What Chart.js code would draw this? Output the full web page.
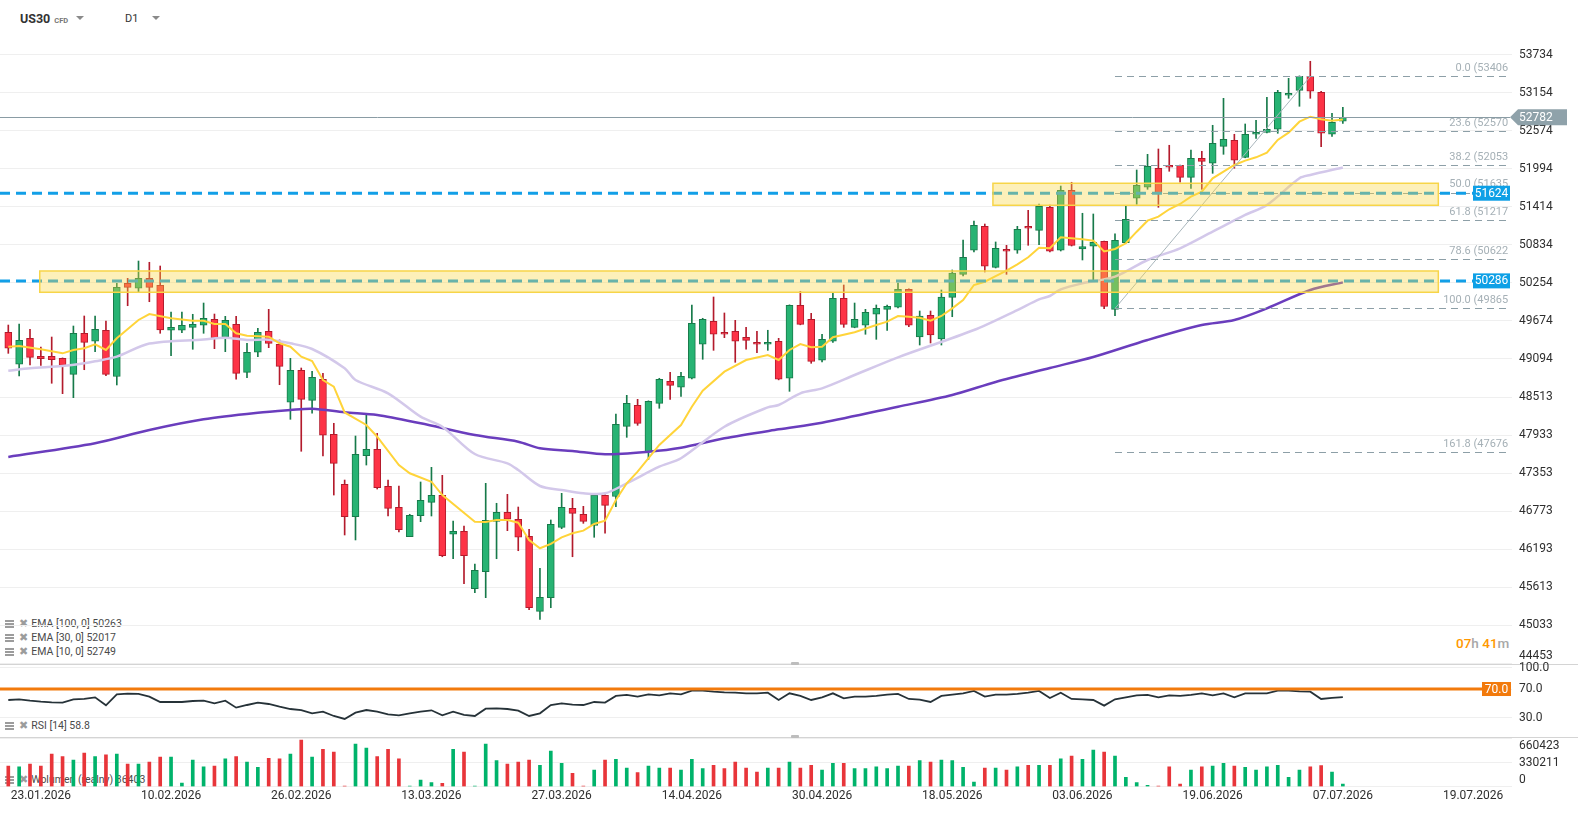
<!DOCTYPE html>
<html>
<head>
<meta charset="utf-8">
<title>US30 D1</title>
<script src="https://cdn.jsdelivr.net/npm/chart.js@4.4.1/dist/chart.umd.min.js"></script>
<style>
  html, body { margin:0; padding:0; width:1578px; height:820px; background:#fff; overflow:hidden; font-family: Roboto, "Noto Sans", "DejaVu Sans", sans-serif; }
  .a { position:absolute; white-space:nowrap; }
  canvas { position:absolute; left:0; }
  .leg { position:absolute; left:5px; font-size:10.5px; color:#4a4a4a; line-height:12px; white-space:nowrap; z-index:0; }
  .ico { display:inline-block; width:9px; height:8px; vertical-align:-1px; background: repeating-linear-gradient(#9c9c9c 0 2px, transparent 2px 3px); margin-right:5px; }
  .xx { color:#9c9c9c; font-size:11px; margin-right:3px; font-family:"DejaVu Sans", sans-serif; }
  .tri { position:absolute; width:0; height:0; border-left:4px solid transparent; border-right:4px solid transparent; border-top:4px solid #8a8a8a; }
</style>
</head>
<body>
<div class="a" style="left:20px;top:11px;font-size:12.5px;font-weight:700;color:#333;">US30<span style="font-size:7.5px;color:#777;font-weight:700;margin-left:4px;">CFD</span></div>
<div class="tri" style="left:76px;top:16px;"></div>
<div class="a" style="left:125px;top:12px;font-size:11px;color:#333;">D1</div>
<div class="tri" style="left:152px;top:16px;"></div>

<div class="leg" style="top:618px"><span class="ico"></span><span class="xx">✖</span>EMA [100, 0] 50263</div>
<div class="leg" style="top:632px"><span class="ico"></span><span class="xx">✖</span>EMA [30, 0] 52017</div>
<div class="leg" style="top:646px"><span class="ico"></span><span class="xx">✖</span>EMA [10, 0] 52749</div>
<div class="leg" style="top:720px"><span class="ico"></span><span class="xx">✖</span>RSI [14] 58.8</div>
<div class="leg" style="top:774px"><span class="ico"></span><span class="xx">✖</span>Wolumen (realny) 36403</div>

<div class="a" style="left:1456px;top:635px;font-size:13.5px;font-weight:500;"><span style="color:#ff9800">07</span><span style="color:#a8a8a8">h </span><span style="color:#ff9800">41</span><span style="color:#a8a8a8">m</span></div>

<div class="a" style="left:0;top:664px;width:1578px;height:1px;background:#d4d4d4;"></div>
<div class="a" style="left:0;top:737px;width:1578px;height:1px;background:#d4d4d4;"></div>
<div class="a" style="left:791px;top:662px;width:8px;height:3px;background:#bdbdbd;border-radius:1px;z-index:5;"></div>
<div class="a" style="left:791px;top:735px;width:8px;height:3px;background:#bdbdbd;border-radius:1px;z-index:5;"></div>

<canvas id="main" width="1578" height="672" style="top:0;z-index:1;width:1578px;height:672px;"></canvas>
<canvas id="rsi" width="1578" height="85" style="top:660px;z-index:2;width:1578px;height:85px;"></canvas>
<canvas id="vol" width="1578" height="92" style="top:728px;z-index:3;width:1578px;height:92px;"></canvas>

<script>
// ---------------- DATA ----------------
const candleOpen = [49501,49013,49409,49135,49135,49104,48860,49486,49364,49532,48826,50249,50173,50325,50219,49532,49532,49577,49608,49700,49425,49623,48890,49196,49516,49318,48433,48921,48463,48784,47944,47181,46686,47617,47715,47150,46830,46381,46701,46906,47013,46418,46463,45587,45847,46616,46753,46647,46387,45242,45450,46524,46814,46723,46555,47013,46995,48066,48387,47678,48417,48753,48662,48799,49318,49669,49501,49516,49425,49348,49318,49364,48799,49913,49700,49074,49364,50020,49577,49608,49776,49852,49883,50157,49429,49761,49399,50035,50386,50753,51119,50493,50768,50753,51119,51058,51409,50753,51669,50773,50814,50890,49852,50869,51547,51715,52005,52050,52050,51867,52157,52081,52340,52432,52172,52524,52554,52600,53119,53195,53409,53165,52524,52722];
const candleHigh = [49612,49628,49547,49277,49429,49110,49597,49750,49750,49674,50249,50325,50589,50570,50513,49811,49811,49776,49948,49780,49745,49745,49333,49562,49852,49384,49104,48956,48906,48875,48112,47246,47918,48239,47959,47246,47155,46723,47216,47440,47318,46621,46544,45964,47196,46891,47028,46834,46494,45899,46636,47043,46967,46845,47030,47020,48254,48539,48478,48455,48799,48890,48890,49918,49715,50040,49796,49684,49577,49516,49532,49409,49920,50127,49791,49471,50096,50223,49948,49852,49918,49918,50254,50165,49826,49826,50147,50452,50910,51200,51154,50880,50829,51119,51363,51460,51444,51734,51791,51318,51307,50895,51006,51429,51979,52218,52299,52356,52055,52284,52264,52661,53073,52524,52681,52737,53088,53195,53378,53415,53638,53180,52844,52936];
const candleLow = [49180,48834,49002,48997,48723,48564,48503,48930,49205,48839,48697,49907,50121,49968,49486,49144,49495,49242,49486,49251,49205,48784,48808,49129,49266,48701,48173,47685,48265,47613,47017,46407,46331,47475,47109,46697,46453,46381,46610,46697,46075,46045,45663,45526,45450,46045,46473,46167,45267,45120,45297,46503,46075,46585,46372,46433,46839,47898,48081,47562,48341,48478,48524,48790,49089,49226,49419,49043,49242,49190,49226,48775,48600,49615,49028,49048,49348,49577,49570,49471,49394,49529,49875,49587,49307,49338,49307,49739,50360,50727,50422,50483,50386,50707,50829,50838,50727,50742,50818,50605,50284,49861,49754,50864,51455,51684,51409,51959,51791,51699,51684,51928,52218,52005,52165,52462,52545,52539,53073,52951,53073,52334,52493,52691];
const candleClose = [49257,49379,49119,49098,49083,48997,49486,49348,49547,48860,50188,50188,50325,50188,49536,49577,49608,49623,49715,49414,49684,48875,49196,49501,49333,48982,48921,48478,48814,47929,47501,46686,47639,47715,47129,46814,46488,46708,46937,47013,46091,46463,46091,45868,46631,46753,46647,46372,45297,45456,46570,46830,46738,46616,47013,46860,48097,48417,48112,48448,48784,48692,48829,49638,49700,49471,49471,49364,49379,49318,49348,48784,49913,49623,49058,49394,50020,49623,49700,49806,49867,49898,50157,49608,49750,49460,50040,50406,50646,51134,50509,50783,50738,51073,51089,51424,50738,51669,50829,50811,50875,49895,50905,51226,51745,52035,51623,52020,51867,52157,52111,52386,52447,52127,52524,52554,52600,53165,53149,53409,53180,52539,52707,52783];
const volume = [284000,275000,312000,284000,449000,413000,367000,463000,413000,440000,449000,312000,312000,339000,408000,408000,50000,367000,275000,284000,385000,413000,339000,266000,390000,385000,449000,642000,408000,514000,477000,9000,587000,532000,413000,514000,385000,8000,92000,55000,46000,514000,477000,9000,587000,358000,312000,339000,367000,294000,491000,321000,183000,10000,229000,367000,376000,257000,193000,284000,257000,257000,229000,376000,248000,294000,248000,339000,257000,202000,257000,257000,339000,257000,294000,229000,321000,321000,248000,248000,275000,248000,284000,284000,358000,339000,367000,358000,266000,64000,257000,257000,229000,275000,294000,294000,294000,385000,422000,376000,504000,477000,422000,128000,55000,18000,9000,275000,37000,229000,275000,284000,321000,284000,266000,229000,275000,294000,128000,229000,275000,289000,202000,36403];
const rsi14 = [54.7,55.6,53.8,52.4,51.4,51.0,55.6,56.1,58.4,47.3,62.6,63.5,63.1,59.4,51.9,51.9,51.9,53.3,53.8,50.0,53.8,44.0,47.7,51.0,49.1,45.4,42.1,40.7,36.1,38.4,32.4,28.2,37.0,40.7,38.4,34.7,33.3,36.1,38.4,40.3,33.3,38.4,33.8,32.4,42.6,43.1,42.1,39.8,32.4,36.1,47.7,50.0,48.2,47.7,51.9,51.0,60.3,61.7,59.4,62.6,61.2,64.0,62.6,67.7,67.7,66.3,65.4,64.9,64.0,64.0,64.9,54.7,64.0,60.3,54.7,58.4,64.0,57.0,59.4,59.4,60.3,62.1,63.1,56.1,55.2,51.9,60.3,62.1,64.0,67.3,59.4,62.1,62.1,63.1,64.9,67.3,57.5,64.9,56.1,55.6,54.7,46.8,55.6,58.4,61.2,61.7,58.4,61.2,60.3,61.7,64.0,61.2,64.0,58.4,64.0,64.0,64.0,67.7,67.7,66.8,66.3,56.1,57.5,58.8];

const ema10Idx = [0,1,3,5,6,7,8,9,10,12,13,15,17,18,19,20,21,22,24,25,26,27,28,29,30,31,33,34,36,37,39,40,43,44,45,46,47,48,49,50,51,52,53,54,55,56,57,58,60,62,63,64,66,68,70,71,72,73,74,75,76,78,80,81,82,83,84,85,86,87,88,89,90,91,92,93,94,95,96,97,98,99,100,101,102,103,104,105,106,107,108,109,110,111,112,113,114,115,116,117,118,119,120,121,122,123];
const ema10Val = [49281,49292,49242,49180,49231,49257,49318,49231,49409,49689,49780,49715,49678,49678,49628,49628,49486,49449,49434,49333,49281,49129,49063,48773,48671,48277,48086,47907,47475,47349,47220,47017,46610,46605,46636,46636,46595,46331,46204,46270,46372,46433,46473,46575,46625,46941,47196,47373,47781,48086,48365,48610,48900,49078,49155,49078,49231,49322,49272,49281,49425,49501,49612,49663,49750,49739,49724,49678,49750,49867,49994,50223,50273,50360,50441,50539,50646,50793,50783,50951,50936,50921,50900,50736,50773,50860,51037,51205,51266,51379,51460,51571,51647,51852,51953,52055,52121,52172,52243,52437,52548,52716,52792,52753,52731,52749];
const ema30Idx = [0,2,5,7,8,10,13,18,20,22,24,26,28,31,32,35,38,40,43,46,47,49,51,53,55,57,60,62,66,70,71,73,75,78,82,89,93,95,96,97,99,102,105,108,111,114,116,119,120,123];
const ema30Val = [48915,48952,48987,49028,49058,49129,49329,49391,49419,49384,49389,49333,49246,48952,48773,48570,48213,48060,47643,47501,47399,47155,47094,47043,47043,47196,47449,47578,48060,48356,48391,48570,48646,48849,49119,49536,49841,50005,50055,50157,50249,50350,50605,50783,51037,51292,51444,51852,51902,52017];
const ema100Idx = [0,8,13,18,23,26,28,31,34,38,43,47,49,52,55,59,62,66,71,75,82,87,91,96,100,105,110,113,116,120,123];
const ema100Val = [47598,47807,48010,48173,48274,48315,48335,48280,48239,48112,47933,47831,47730,47689,47638,47678,47739,47883,48020,48121,48365,48544,48743,48956,49124,49384,49612,49689,49867,50147,50263];

const priceTicks = [53734,53154,52574,51994,51414,50834,50254,49674,49094,48513,47933,47353,46773,46193,45613,45033,44453];
const rsiTicks = [100,70,30];
const volTicks = [0,330211,660423];
const dateTickIdx = [3,15,27,39,51,63,75,87,99,111,123,135];
const dateTickText = ['23.01.2026','10.02.2026','26.02.2026','13.03.2026','27.03.2026','14.04.2026','30.04.2026','18.05.2026','03.06.2026','19.06.2026','07.07.2026','19.07.2026'];

const fibLevels = ['0.0','23.6','38.2','50.0','61.8','78.6','100.0','161.8'];
const fibValues = [53406,52570,52053,51635,51217,50622,49865,47676];
const fibAnchorIdx = [102, 120];
const fibEndIdx = 138.1;
const lastPrice = 52782;
const levelValues = [51624, 50286];
const zoneFrom = [2.9, 90.75];
const zoneTo = [131.8, 131.8];
const zoneLow = [50112, 51440];
const zoneHigh = [50437, 51776];
const rsiLevel = 70;

// ---------------- STYLE / HELPERS ----------------
Chart.defaults.font.family = 'Roboto, "Noto Sans", sans-serif';
const FONT = { size: 12, family: 'Roboto, "Noto Sans", sans-serif' };
const TICK_COLOR = '#2e2e2e';
const GRID = '#efefef';
const UP = '#27b373', UP_B = '#177a4a', DN = '#fd3346', DN_B = '#b31b2c';
const X_MIN = -0.765, X_MAX = 138.59;

function zeroPad(s) { s.paddingTop = 0; s.paddingBottom = 0; s.paddingLeft = 0; s.paddingRight = 0; }
function xAxis(show) {
  return {
    type: 'linear', min: X_MIN, max: X_MAX, offset: false, display: show,
    grid: { display: false, drawTicks: false }, border: { display: false },
    afterBuildTicks: s => { s.ticks = dateTickIdx.map(v => ({ value: v })); },
    afterFit: s => { if (show) s.height = 33.3; zeroPad(s); },
    ticks: { autoSkip: false, maxRotation: 0, padding: 2, color: TICK_COLOR, font: FONT,
      callback: v => { const k = dateTickIdx.indexOf(v); return k >= 0 ? dateTickText[k] : ''; } }
  };
}
function yAxis(min, max, ticks, cb) {
  return {
    position: 'right', min, max,
    grid: { color: GRID, drawTicks: false }, border: { display: false },
    afterBuildTicks: s => { s.ticks = ticks.map(v => ({ value: v })); },
    afterFit: s => { s.width = 66; zeroPad(s); },
    ticks: { autoSkip: false, padding: 7, color: TICK_COLOR, font: FONT, callback: cb }
  };
}
const isUp = i => candleClose[i] >= candleOpen[i];

// ---------------- MAIN CHART ----------------
const overlayMain = {
  id: 'overlayMain',
  afterDatasetsDraw(chart) {
    const { ctx, chartArea: a, scales: { x, y } } = chart;
    const px = v => x.getPixelForValue(v), py = v => y.getPixelForValue(v);
    ctx.save();
    ctx.beginPath(); ctx.rect(a.left, a.top, a.right - a.left, a.bottom - a.top); ctx.clip();
    // fibonacci levels
    const fx0 = px(fibAnchorIdx[0]), fx1 = px(fibEndIdx);
    ctx.lineWidth = 1; ctx.strokeStyle = '#8d9fa7'; ctx.setLineDash([7, 5]);
    fibValues.forEach(v => { const yy = Math.round(py(v)) + 0.5; ctx.beginPath(); ctx.moveTo(fx0, yy); ctx.lineTo(fx1, yy); ctx.stroke(); });
    ctx.setLineDash([]);
    ctx.font = '11px Roboto, "Noto Sans", sans-serif'; ctx.fillStyle = '#a5b0b6'; ctx.textAlign = 'right'; ctx.textBaseline = 'middle';
    fibValues.forEach((v, k) => ctx.fillText(fibLevels[k] + ' (' + v, fx1 + 1.5, py(v) - 8));
    // fib trend line
    ctx.strokeStyle = '#a9b6bc'; ctx.lineWidth = 1;
    ctx.beginPath(); ctx.moveTo(px(fibAnchorIdx[0]), py(fibValues[6])); ctx.lineTo(px(fibAnchorIdx[1]), py(fibValues[0])); ctx.stroke();
    // last price line
    const lp = Math.round(py(lastPrice)) + 0.5;
    ctx.strokeStyle = '#8a9ca4'; ctx.beginPath(); ctx.moveTo(a.left, lp); ctx.lineTo(a.right - 2, lp); ctx.stroke();
    // blue support / resistance lines
    ctx.strokeStyle = '#129fe7'; ctx.lineWidth = 3; ctx.setLineDash([10, 6]);
    levelValues.forEach(v => { const yy = py(v); ctx.beginPath(); ctx.moveTo(a.left, yy); ctx.lineTo(a.right - 39, yy); ctx.stroke(); });
    ctx.setLineDash([]);
    // zones
    zoneFrom.forEach((f, k) => {
      const x0 = px(f), x1 = px(zoneTo[k]), y0 = py(zoneHigh[k]), y1 = py(zoneLow[k]);
      ctx.fillStyle = 'rgba(249,215,66,0.37)'; ctx.fillRect(x0, y0, x1 - x0, y1 - y0);
      ctx.strokeStyle = '#f7d548'; ctx.lineWidth = 1.5; ctx.strokeRect(x0, y0, x1 - x0, y1 - y0);
    });
    ctx.restore();
    // tags
    ctx.save();
    ctx.font = '12px Roboto, "Noto Sans", sans-serif'; ctx.textBaseline = 'middle';
    levelValues.forEach(v => {
      const yy = py(v);
      ctx.fillStyle = '#0ea0e6'; ctx.fillRect(a.right - 39, yy - 7.5, 37, 15);
      ctx.fillStyle = '#fff'; ctx.textAlign = 'center'; ctx.fillText(String(v), a.right - 20.5, yy + 0.5);
    });
    const ty = py(lastPrice);
    ctx.fillStyle = '#8fa2aa';
    ctx.beginPath(); ctx.moveTo(a.right - 2, ty); ctx.lineTo(a.right + 6, ty - 8); ctx.lineTo(a.right + 55, ty - 8);
    ctx.lineTo(a.right + 55, ty + 8); ctx.lineTo(a.right + 6, ty + 8); ctx.closePath(); ctx.fill();
    ctx.fillStyle = '#fff'; ctx.textAlign = 'left'; ctx.fillText(String(lastPrice), a.right + 7, ty + 0.5);
    ctx.restore();
  }
};

new Chart(document.getElementById('main'), {
  type: 'bar',
  data: {
    datasets: [
      { type: 'line', label: 'EMA10', data: ema10Idx.map((v, k) => ({ x: v, y: ema10Val[k] })), borderColor: '#ffd43a', borderWidth: 2, pointRadius: 0, tension: 0, order: 0 },
      { type: 'line', label: 'EMA30', data: ema30Idx.map((v, k) => ({ x: v, y: ema30Val[k] })), borderColor: '#d3c8ea', borderWidth: 2.5, pointRadius: 0, tension: 0.3, order: 0 },
      { type: 'line', label: 'EMA100', data: ema100Idx.map((v, k) => ({ x: v, y: ema100Val[k] })), borderColor: '#6a3dbd', borderWidth: 2.5, pointRadius: 0, tension: 0.3, order: 0 },
      { label: 'body', data: candleOpen.map((o, i) => ({ x: i, y: [o, candleClose[i]] })),
        backgroundColor: candleOpen.map((o, i) => isUp(i) ? UP : DN),
        borderColor: candleOpen.map((o, i) => isUp(i) ? UP_B : DN_B),
        borderWidth: 1, borderSkipped: false, barThickness: 7, grouped: false, minBarLength: 2, order: 1 },
      { label: 'wick', data: candleLow.map((l, i) => ({ x: i, y: [l, candleHigh[i]] })),
        backgroundColor: candleOpen.map((o, i) => isUp(i) ? UP_B : DN_B),
        borderWidth: 0, barThickness: 1, grouped: false, order: 2 }
    ]
  },
  options: {
    responsive: false, devicePixelRatio: 1, animation: false,
    layout: { padding: { top: 36, bottom: 9, left: 0, right: 0 } },
    plugins: { legend: { display: false }, tooltip: { enabled: false } },
    scales: {
      x: xAxis(false),
      y: yAxis(44453, 54024, priceTicks, v => v === 44453 ? [String(v), ''] : String(v))
    }
  },
  plugins: [overlayMain]
});

// ---------------- RSI ----------------
const overlayRsi = {
  id: 'overlayRsi',
  afterDatasetsDraw(chart) {
    const { ctx, chartArea: a, scales: { y } } = chart;
    const yy = y.getPixelForValue(rsiLevel);
    ctx.save();
    ctx.strokeStyle = '#f27a0c'; ctx.lineWidth = 3;
    ctx.beginPath(); ctx.moveTo(a.left, yy); ctx.lineTo(a.right - 30, yy); ctx.stroke();
    ctx.fillStyle = '#f27a0c'; ctx.fillRect(a.right - 30, yy - 7, 29, 14);
    ctx.fillStyle = '#fff'; ctx.font = '12px Roboto, "Noto Sans", sans-serif'; ctx.textAlign = 'center'; ctx.textBaseline = 'middle';
    ctx.fillText(rsiLevel.toFixed(1), a.right - 15.5, yy + 0.5);
    ctx.restore();
  }
};
new Chart(document.getElementById('rsi'), {
  type: 'line',
  data: { datasets: [{ label: 'RSI', data: rsi14.map((v, i) => ({ x: i, y: v })), borderColor: '#263238', borderWidth: 1.8, pointRadius: 0, tension: 0 }] },
  options: {
    responsive: false, devicePixelRatio: 1, animation: false,
    layout: { padding: { top: 7.5, bottom: 5.8, left: 0, right: 0 } },
    plugins: { legend: { display: false }, tooltip: { enabled: false } },
    scales: { x: xAxis(false), y: yAxis(0, 100, rsiTicks, v => v.toFixed(1)) }
  },
  plugins: [overlayRsi]
});

// ---------------- VOLUME ----------------
new Chart(document.getElementById('vol'), {
  type: 'bar',
  data: { datasets: [{ label: 'Wolumen', data: volume.map((v, i) => ({ x: i, y: v })),
    backgroundColor: volume.map((v, i) => isUp(i) ? '#00b36b' : '#e8353a'), barThickness: 3, grouped: false }] },
  options: {
    responsive: false, devicePixelRatio: 1, animation: false,
    layout: { padding: { top: 10.7, bottom: 0, left: 0, right: 0 } },
    plugins: { legend: { display: false }, tooltip: { enabled: false } },
    scales: {
      x: xAxis(true),
      y: yAxis(0, 660423, volTicks, v => v === 0 ? ['0', ''] : (v === 660423 ? ['', String(v)] : String(v)))
    }
  }
});
</script>
</body>
</html>
